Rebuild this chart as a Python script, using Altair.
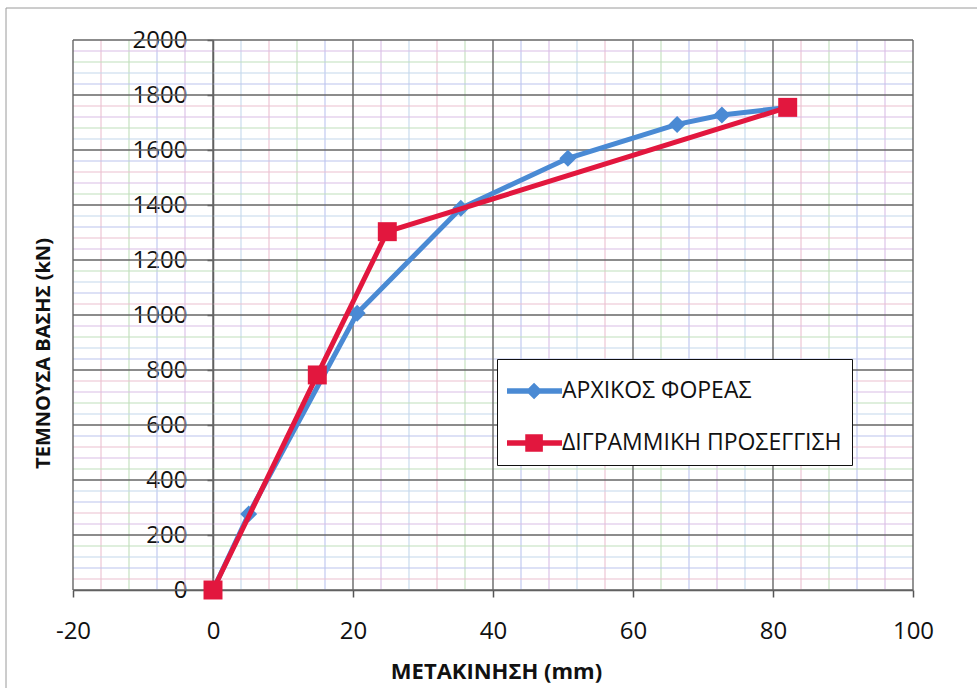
import altair as alt
import pandas as pd

# Series names and colours
SERIES = ["ΑΡΧΙΚΟΣ ΦΟΡΕΑΣ", "ΔΙΓΡΑΜΜΙΚΗ ΠΡΟΣΕΓΓΙΣΗ"]
COLORS = ["#4a8ad4", "#e2173e"]

# Pushover curve (displacement mm, base shear kN)
BLUE_X = [0, 5.1, 20.6, 35.4, 50.7, 66.3, 72.7, 82.1]
BLUE_Y = [0, 276, 1006, 1388, 1570, 1693, 1727, 1755]

# Bilinear approximation
RED_X = [0, 14.9, 24.9, 82.1]
RED_Y = [0, 782, 1303, 1755]

# Axis ticks and grid positions
X_MAJOR = [-20, 0, 20, 40, 60, 80, 100]
Y_MAJOR = [0, 200, 400, 600, 800, 1000, 1200, 1400, 1600, 1800, 2000]
X_MINOR = [v for v in range(-20, 101, 4) if v % 20]
Y_MINOR = [v for v in range(0, 2001, 40) if v % 200]
GRID_TONES = ["#ebbfd0", "#c0dfbb", "#bcc4ee", "#d9bde6", "#c4d8ec"]

FONT = "Open Sans"

curves = pd.DataFrame({
    "series": [SERIES[0]] * len(BLUE_X) + [SERIES[1]] * len(RED_X),
    "x": BLUE_X + RED_X,
    "y": BLUE_Y + RED_Y,
    "order": list(range(len(BLUE_X))) + list(range(len(RED_X))),
})

xs = alt.Scale(domain=[-20, 100], nice=False, zero=False)
ys = alt.Scale(domain=[0, 2000], nice=False, zero=False)

x_axis = alt.Axis(
    values=X_MAJOR, grid=False, domainColor="#555", domainWidth=1.5,
    tickColor="#555", tickWidth=1.5, tickSize=7,
    labelExpr="'' + datum.value",
    labelFont=FONT, labelFontSize=24, labelColor="#111", labelPadding=22,
    labelFlush=False, labelOverlap=False,
    title="ΜΕΤΑΚΙΝΗΣΗ (mm)", titleFont=FONT, titleFontSize=22,
    titleFontWeight="bold", titleColor="#111",
    titleX=423, titleY=81, titleAlign="center", titleBaseline="middle",
)
# vertical axis crosses the horizontal one at x = 0
y_axis = alt.Axis(
    values=Y_MAJOR, grid=False, offset=-140, domainColor="#555",
    domainWidth=1.5, tickColor="#555", tickWidth=1.5, tickSize=6,
    labelExpr="'' + datum.value",
    labelFont=FONT, labelFontSize=24, labelColor="#111", labelPadding=20,
    labelFlush=False, labelOverlap=False,
    title="ΤΕΜΝΟΥΣΑ ΒΑΣΗΣ (kN)", titleFont=FONT, titleFontSize=20,
    titleFontWeight="bold", titleColor="#111",
    titleX=-170, titleY=313, titleAngle=270, titleAlign="center",
    titleBaseline="middle",
)

X = alt.X("x:Q", scale=xs, axis=x_axis)
Y = alt.Y("y:Q", scale=ys, axis=y_axis)

# Legend symbols: a line segment with the series marker on it
LINE_DIAMOND = "M-1,-0.12H1.5V0.12H-1ZM0.23,-0.38L0.61,0L0.23,0.38L-0.15,0Z"
LINE_SQUARE = "M-1,-0.12H1.5V0.12H-1ZM-0.17,-0.4H0.63V0.4H-0.17Z"

legend = alt.Legend(
    title=None, orient="none", legendX=424, legendY=319, padding=10,
    fillColor="white", strokeColor="#111",
    labelFont=FONT, labelFontSize=23, labelColor="#111", labelLimit=500,
    labelOffset=11, rowPadding=18, symbolSize=1936,
    symbolOpacity=1, symbolStrokeWidth=0,
)

# Minor grid lines in alternating pastel tones
vminor = pd.DataFrame({"x": X_MINOR, "tone": [i % 5 for i in range(len(X_MINOR))]})
hminor = pd.DataFrame({"y": Y_MINOR, "tone": [(i * 2) % 5 for i in range(len(Y_MINOR))]})
tone_scale = alt.Scale(domain=list(range(5)), range=GRID_TONES)

v_minor = alt.Chart(vminor).mark_rule(strokeWidth=1.1).encode(
    x=X, stroke=alt.Stroke("tone:O", scale=tone_scale, legend=None))
h_minor = alt.Chart(hminor).mark_rule(strokeWidth=1.2).encode(
    y=Y, stroke=alt.Stroke("tone:O", scale=tone_scale, legend=None))

v_major = alt.Chart(pd.DataFrame({"x": X_MAJOR})).mark_rule(
    color="#666666", strokeWidth=1.4).encode(x=X)
h_major = alt.Chart(pd.DataFrame({"y": Y_MAJOR})).mark_rule(
    color="#666666", strokeWidth=1.4).encode(y=Y)

blue = curves[curves.series == SERIES[0]]
red = curves[curves.series == SERIES[1]]

blue_line = alt.Chart(blue).mark_line(strokeWidth=5, color=COLORS[0]).encode(
    x=X, y=Y, order="order:Q")
blue_pts = alt.Chart(blue).mark_point(
    shape="diamond", filled=True, size=290, opacity=1, color=COLORS[0]
).encode(x=X, y=Y)
red_line = alt.Chart(red).mark_line(strokeWidth=5, color=COLORS[1]).encode(
    x=X, y=Y, order="order:Q")
red_pts = alt.Chart(red).mark_point(
    shape="square", filled=True, size=360, opacity=1, color=COLORS[1]
).encode(x=X, y=Y)

# Legend carrier: no rows survive the filter, only the legend is drawn
key = alt.Chart(curves).mark_point(filled=True).encode(
    x=X, y=Y,
    color=alt.Color("series:N", scale=alt.Scale(domain=SERIES, range=COLORS), legend=legend),
    shape=alt.Shape("series:N", scale=alt.Scale(domain=SERIES, range=[LINE_DIAMOND, LINE_SQUARE]),
                    legend=legend),
).transform_filter("datum.x < -1000")

# Thin outer frame of the chart area
one = pd.DataFrame({"k": [0]})
frame_top = alt.Chart(one).mark_rule(color="#9a9a9a", strokeWidth=1).encode(
    x=alt.value(-67), x2=alt.value(910), y=alt.value(-32))
frame_left = alt.Chart(one).mark_rule(color="#9a9a9a", strokeWidth=1).encode(
    x=alt.value(-67), y=alt.value(-32), y2=alt.value(660))

chart = alt.layer(
    v_minor, h_minor, v_major, h_major,
    blue_line, blue_pts, red_line, red_pts, key,
    frame_top, frame_left,
).properties(
    width=840, height=550,
    padding={"left": 73, "top": 40, "right": 64, "bottom": 98},
    autosize=alt.AutoSizeParams(type="none"),
    background="white",
).configure_view(stroke=None)

chart.save("out.html", embed_options={"renderer": "svg", "actions": False})
